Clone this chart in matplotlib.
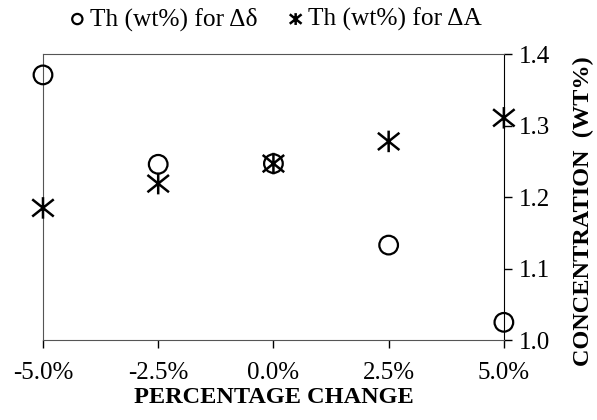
import matplotlib
matplotlib.use("Agg")
import matplotlib.pyplot as plt
from matplotlib.ticker import FuncFormatter
from matplotlib.path import Path

plt.rcParams['font.family'] = ['Liberation Serif', 'DejaVu Serif']

pct_change = [-0.05, -0.025, 0.0, 0.025, 0.05]
th_delta_delta = [1.371, 1.246, 1.247, 1.133, 1.025]
th_delta_A = [1.185, 1.219, 1.247, 1.278, 1.311]
x_ticks = [-0.05, -0.025, 0.0, 0.025, 0.05]
y_ticks = [1.0, 1.1, 1.2, 1.3, 1.4]

star = Path([(0, -1), (0, 1), (-1, -0.8), (1, 0.8), (-1, 0.8), (1, -0.8)],
            [Path.MOVETO, Path.LINETO, Path.MOVETO, Path.LINETO, Path.MOVETO, Path.LINETO])

fig = plt.figure(figsize=(5.97, 4.2), dpi=100)
ax = fig.add_axes([0.072, 0.19, 0.772, 0.681])

ax.scatter(pct_change, th_delta_delta, marker='o', s=180, facecolors='none',
           edgecolors='black', linewidths=1.6, label='Th (wt%) for Δδ', clip_on=False, zorder=3)
ax.scatter(pct_change, th_delta_A, marker=star, s=240, facecolors='none', edgecolors='black',
           linewidths=1.8, label='Th (wt%) for ΔA', clip_on=False, zorder=3)

ax.set_xlim(-0.05, 0.05)
ax.set_ylim(1.0, 1.4)
ax.set_xticks(x_ticks)
ax.xaxis.set_major_formatter(FuncFormatter(lambda v, p: f"{v*100:.1f}%"))
ax.set_yticks(y_ticks)
ax.yaxis.set_major_formatter(FuncFormatter(lambda v, p: f"{v:.1f}"))
ax.yaxis.tick_right()
ax.yaxis.set_label_position('right')
ax.tick_params(axis='both', direction='out', length=6, width=1, labelsize=18, colors='black')
ax.tick_params(axis='x', pad=10)
ax.tick_params(axis='y', pad=5)

for s in ['left', 'top', 'bottom']:
    ax.spines[s].set_color('#555555')
ax.spines['right'].set_color('black')

ax.set_xlabel('PERCENTAGE CHANGE', fontsize=17.5, fontweight='bold', va='center')
ax.xaxis.set_label_coords(0.5, -0.2)
ax.set_ylabel('CONCENTRATION  (WT%)', fontsize=17.5, fontweight='bold', va='center')
ax.yaxis.set_label_coords(1.173, 0.45)

leg = ax.legend(loc='lower center', bbox_to_anchor=(0.5, 1.045), ncol=2, frameon=False,
                fontsize=18.3, handletextpad=0.0, columnspacing=1.0, markerscale=0.55,
                handlelength=1.0, borderaxespad=0)

fig.savefig('out.png', dpi=100)
